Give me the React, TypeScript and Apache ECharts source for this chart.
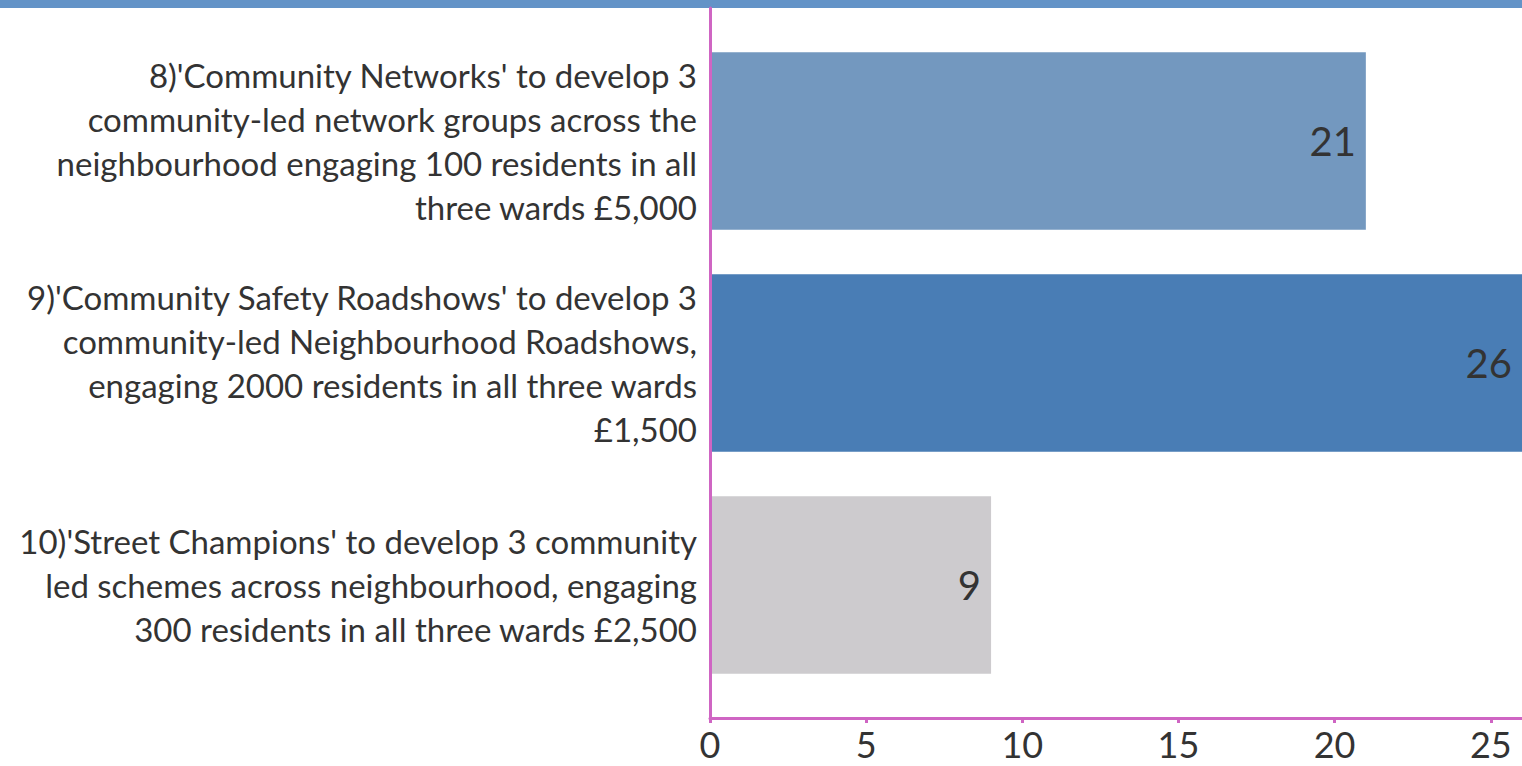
import React, { useEffect, useRef } from "react";
import * as echarts from "echarts";

const categories: string[] = [
  "8)'Community Networks' to develop 3\ncommunity-led network groups across the\nneighbourhood engaging 100 residents in all\nthree wards £5,000",
  "9)'Community Safety Roadshows' to develop 3\ncommunity-led Neighbourhood Roadshows,\nengaging 2000 residents in all three wards\n£1,500",
  "10)'Street Champions' to develop 3 community\nled schemes across neighbourhood, engaging\n300 residents in all three wards £2,500",
];
const values: number[] = [21, 26, 9];
const barColors: string[] = ["#7398bf", "#497db5", "#cdcbce"];
const xTicks = { min: 0, max: 26, interval: 5 };

const FONT = "Lato, 'Source Sans Pro', 'Noto Sans', sans-serif";
const MAGENTA = "#cf65c3";
const TEXT = "#333333";

export default function App() {
  const ref = useRef<HTMLDivElement>(null);
  useEffect(() => {
    document.body.style.margin = "0";
    if (!ref.current) return;
    const chart = echarts.init(ref.current, undefined, { renderer: "svg" });
    chart.setOption({
      animation: false,
      backgroundColor: "#ffffff",
      textStyle: { fontFamily: FONT },
      graphic: [
        {
          type: "rect",
          left: 0,
          top: 0,
          shape: { width: 1522, height: 8 },
          style: { fill: "#6393c7" },
          silent: true,
        },
      ],
      grid: [
        { left: 710, right: 0, top: 30, height: 666, containLabel: false },
        { left: 710, right: 0, top: 8, bottom: 48, containLabel: false },
      ],
      xAxis: [
        {
          gridIndex: 0,
          type: "value",
          min: xTicks.min,
          max: xTicks.max,
          interval: xTicks.interval,
          show: false,
          splitLine: { show: false },
        },
        {
          gridIndex: 1,
          type: "value",
          z: 10,
          min: xTicks.min,
          max: xTicks.max,
          interval: xTicks.interval,
          axisLine: { show: true, lineStyle: { color: MAGENTA, width: 3 } },
          axisTick: { show: true, length: 5, lineStyle: { color: MAGENTA, width: 3 } },
          splitLine: { show: false },
          axisLabel: { color: TEXT, fontSize: 36, margin: 8, fontFamily: FONT },
        },
      ],
      yAxis: [
        {
          gridIndex: 0,
          type: "category",
          data: categories,
          inverse: true,
          axisLine: { show: false },
          axisTick: { show: false },
          axisLabel: {
            color: TEXT,
            fontSize: 33,
            lineHeight: 44,
            margin: 13,
            align: "right",
            fontFamily: FONT,
          },
        },
        {
          gridIndex: 1,
          type: "value",
          z: 10,
          min: 0,
          max: 1,
          axisLine: { show: true, lineStyle: { color: MAGENTA, width: 3 } },
          axisTick: { show: false },
          axisLabel: { show: false },
          splitLine: { show: false },
        },
      ],
      series: [
        {
          type: "bar",
          xAxisIndex: 0,
          yAxisIndex: 0,
          barCategoryGap: "20%",
          data: values.map((v, i) => ({ value: v, itemStyle: { color: barColors[i] } })),
          label: {
            show: true,
            position: "insideRight",
            distance: 10,
            color: TEXT,
            fontSize: 40,
            fontFamily: FONT,
          },
        },
      ],
    });
    return () => chart.dispose();
  }, []);
  return <div ref={ref} style={{ width: 1522, height: 766 }} />;
}
